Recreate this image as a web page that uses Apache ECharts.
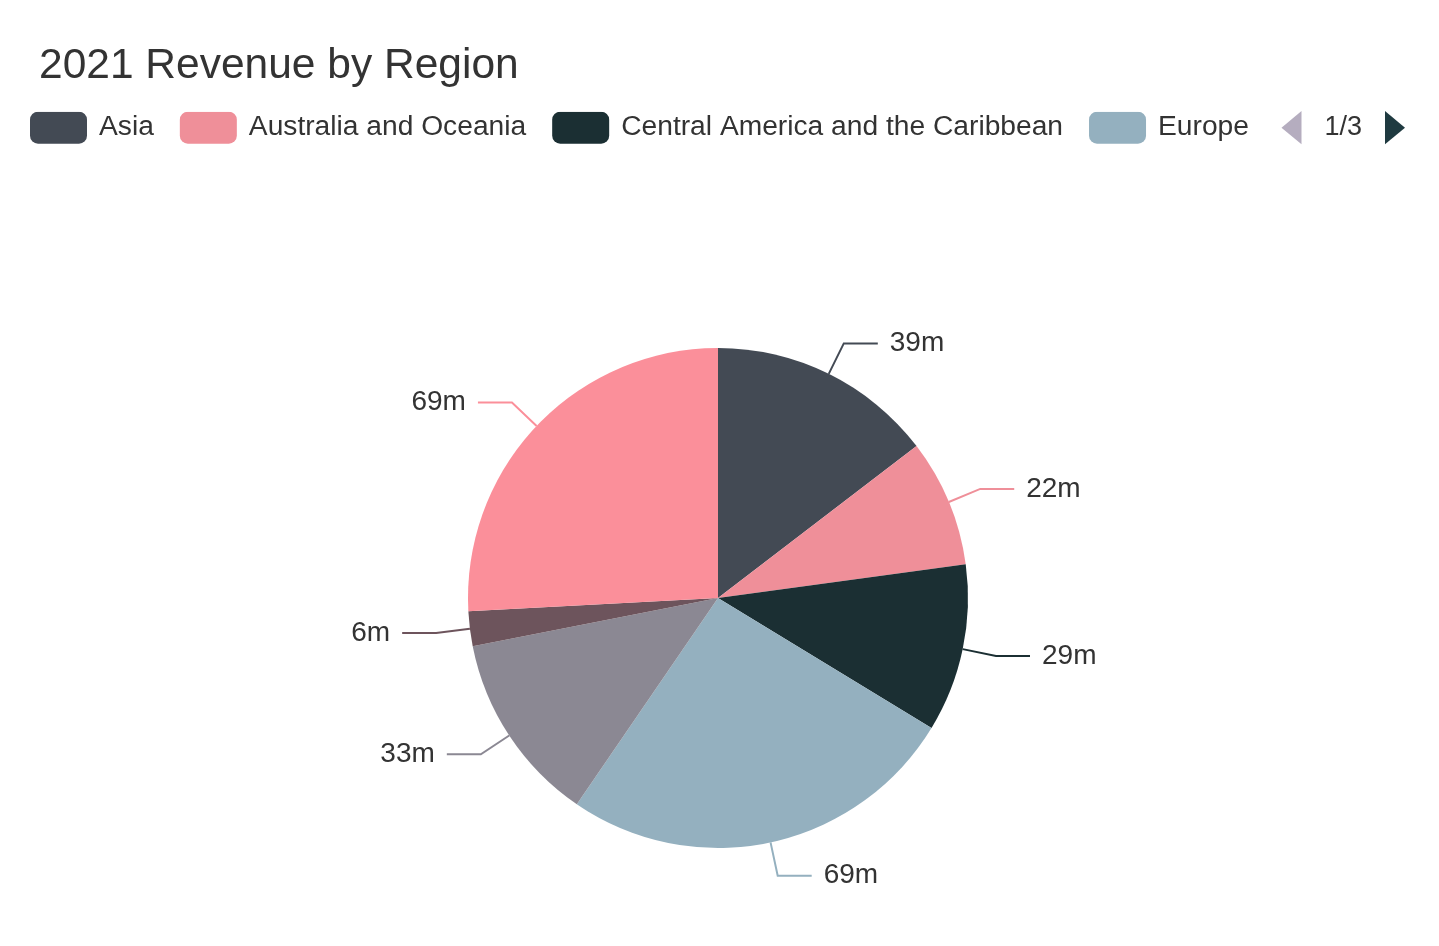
<!DOCTYPE html>
<html>
<head>
<meta charset="utf-8">
<title>2021 Revenue by Region</title>
<script src="https://cdn.jsdelivr.net/npm/echarts@6/dist/echarts.min.js"></script>
<style>
  html, body { margin: 0; padding: 0; background: #fff; }
  #chart { width: 1439px; height: 946px; }
</style>
</head>
<body>
<div id="chart"></div>
<script>
// 데이터
const regions = [
  'Asia',
  'Australia and Oceania',
  'Central America and the Caribbean',
  'Europe',
  'Middle East and North Africa',
  'North America',
  'Sub-Saharan Africa'
];
const revenue = [39, 22, 29, 69, 33, 6, 69];
const sliceColors = ['#434a54', '#ef8f99', '#1b2f33', '#94b0bf', '#8b8893', '#6d545c', '#fb8f9a'];

document.addEventListener('DOMContentLoaded', function() {
  const myChart = echarts.init(document.getElementById('chart'));
  const option = {
    animation: false,
    color: sliceColors,
    textStyle: { fontFamily: '"Liberation Sans", Arial, sans-serif' },
    title: {
      text: '2021 Revenue by Region',
      left: 34,
      top: 40,
      textStyle: {
        fontSize: 42.5,
        fontWeight: 'normal',
        color: '#333'
      }
    },
    legend: {
      type: 'scroll',
      left: 25,
      width: 1375,
      top: 106,
      icon: 'roundRect',
      itemWidth: 57,
      itemHeight: 32,
      itemGap: 26,
      textStyle: { fontSize: 28.2, color: '#333', padding: [0, 0, 0, 7] },
      pageButtonGap: 28,
      pageButtonItemGap: 11,
      pageIconSize: [20, 34],
      pageIconColor: '#1f3a40',
      pageIconInactiveColor: '#b5adbf',
      pageTextStyle: { fontSize: 27, color: '#333' },
      data: regions
    },
    series: [
      {
        type: 'pie',
        center: [718, 598],
        radius: 250,
        data: regions.map(function(name, i) {
          return { name: name, value: revenue[i] };
        }),
        label: {
          formatter: '{c}m',
          fontSize: 28,
          color: '#333',
          distanceToLabelLine: 12
        },
        labelLine: {
          length: 34,
          length2: 34,
          lineStyle: { width: 2 }
        }
      }
    ]
  };
  myChart.setOption(option);
  window.addEventListener('resize', function() {
    myChart.resize();
  });
});
</script>
</body>
</html>
